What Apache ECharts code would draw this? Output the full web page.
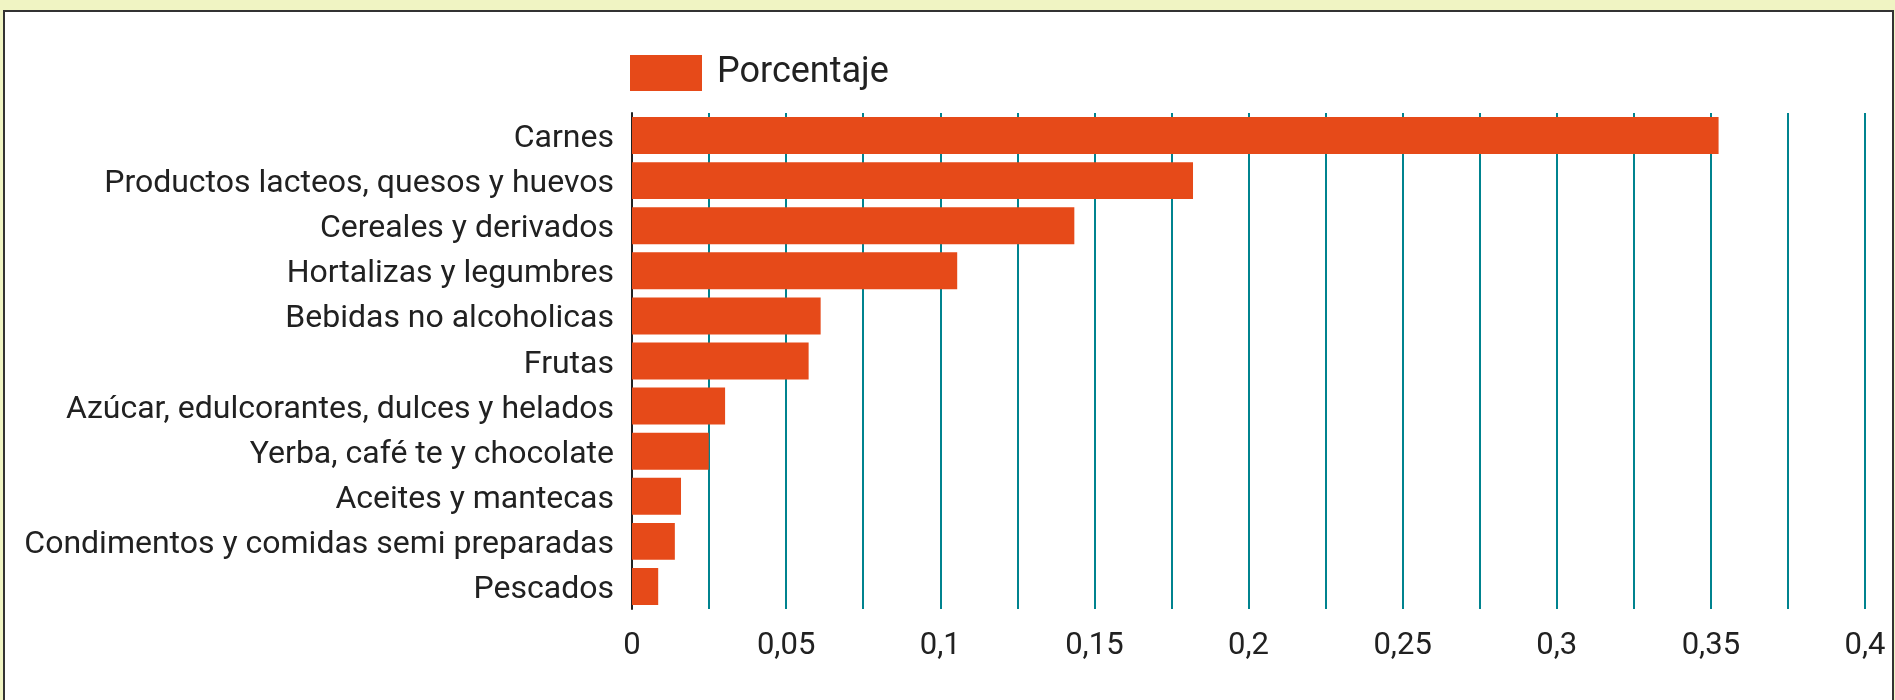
<!DOCTYPE html>
<html>
<head>
<meta charset="utf-8">
<script src="https://cdn.jsdelivr.net/npm/echarts@6/dist/echarts.min.js"></script>
<style>
  html, body { margin: 0; padding: 0; width: 1895px; height: 700px; background: #f0f4c3; overflow: hidden; }
  #frame { position: absolute; left: 3px; top: 10px; width: 1887px; height: 700px; background: #fff;
           border-left: 2px solid #333; border-top: 2px solid #333; border-right: 2px solid #333;
           box-shadow: 0 1px 0 #9e9e9e; }
  #chart { position: absolute; left: 0; top: 0; width: 1895px; height: 700px; }
</style>
</head>
<body>
<div id="frame"></div>
<div id="chart"></div>
<script>
const categories = [
  "Carnes",
  "Productos lacteos, quesos y huevos",
  "Cereales y derivados",
  "Hortalizas y legumbres",
  "Bebidas no alcoholicas",
  "Frutas",
  "Azúcar, edulcorantes, dulces y helados",
  "Yerba, café te y chocolate",
  "Aceites y mantecas",
  "Condimentos y comidas semi preparadas",
  "Pescados"
];
const seriesName = "Porcentaje";
const values = [0.3525, 0.182, 0.1435, 0.1055, 0.0612, 0.0573, 0.0302, 0.0249, 0.0159, 0.0139, 0.0085];
const axisMin = 0, axisMax = 0.4, axisStep = 0.025;

const chart = echarts.init(document.getElementById('chart'), null, { renderer: 'canvas' });
const font = 'Roboto';
chart.setOption({
  animation: false,
  backgroundColor: 'transparent',
  textStyle: { fontFamily: font },
  legend: {
    left: 625, top: 50,
    itemWidth: 72, itemHeight: 36,
    icon: 'rect',
    textStyle: { fontFamily: font, fontSize: 36, color: '#212121', padding: [0, 0, 0, 10] },
    data: [seriesName]
  },
  grid: { left: 632, right: 30, top: 113, bottom: 91, containLabel: false },
  xAxis: {
    type: 'value', min: axisMin, max: axisMax, interval: axisStep,
    axisLine: { show: false }, axisTick: { show: false },
    splitLine: { show: true, lineStyle: { color: '#00838f', width: 2 } },
    axisLabel: {
      fontFamily: font, fontSize: 31, color: '#212121', margin: 22,
      formatter: function (v) {
        const m = Math.round(v * 1000);
        if (m % 50 !== 0) return '';
        return String(+(v.toFixed(3))).replace('.', ',');
      }
    }
  },
  yAxis: {
    type: 'category', inverse: true, data: categories,
    axisLine: { show: true, lineStyle: { color: '#212121', width: 2 } },
    axisTick: { show: false },
    axisLabel: {
      margin: 18,
      formatter: function (v) { return '{c|' + v + '}'; },
      rich: { c: { fontFamily: font, fontSize: 32, color: '#212121', padding: [7, 0, 0, 0] } }
    }
  },
  series: [{
    name: seriesName, type: 'bar', data: values,
    barCategoryGap: '18%',
    itemStyle: { color: '#e64a19' }
  }]
});
</script>
</body>
</html>
